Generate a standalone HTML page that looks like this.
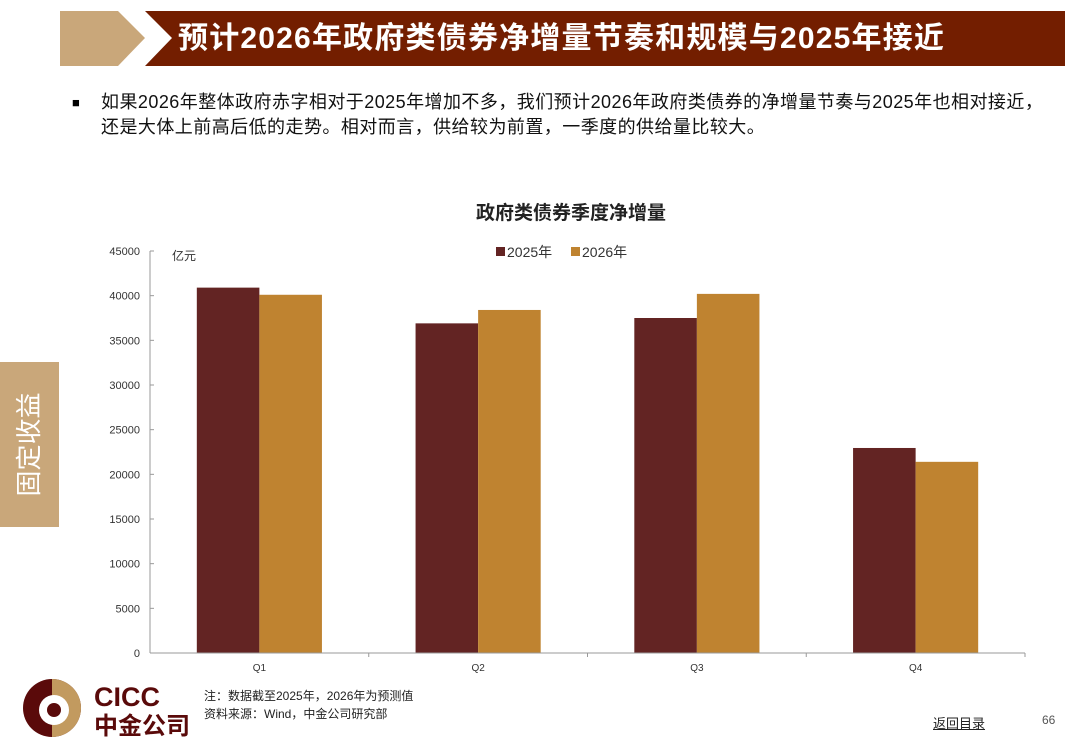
<!DOCTYPE html>
<html><head><meta charset="utf-8"><style>
body{margin:0;width:1080px;height:755px;background:#fff;position:relative;overflow:hidden;font-family:"Liberation Sans","Noto Sans CJK SC",sans-serif}
.abs{position:absolute}
</style></head><body>
<svg class="abs" style="left:0;top:0" width="1080" height="70">
<polygon points="60,11 118,11 145,38 118,66 60,66" fill="#c9a77a"/>
<polygon points="145,11 1065,11 1065,66 145,66 172,38" fill="#731e00"/>
<text x="178" y="48" fill="#fff" font-size="30" font-weight="bold" letter-spacing="1.2" font-family="Liberation Sans, Noto Sans CJK SC, sans-serif">预计2026年政府类债券净增量节奏和规模与2025年接近</text>
</svg>
<div class="abs" style="left:72px;top:95px;font-size:13px">■</div>
<div class="abs" style="left:101px;top:90px;font-size:18px;letter-spacing:0.45px;line-height:25px;color:#111;width:975px;white-space:nowrap">如果2026年整体政府赤字相对于2025年增加不多，我们预计2026年政府类债券的净增量节奏与2025年也相对接近，<br>还是大体上前高后低的走势。相对而言，供给较为前置，一季度的供给量比较大。</div>
<div class="abs" style="left:0;top:362px;width:59px;height:165px;background:#c9a77a"></div>
<div class="abs" style="left:-53px;top:429px;width:165px;height:31px;color:#fff;font-size:26px;text-align:center;transform:rotate(-90deg);line-height:31px">固定收益</div>
<svg id="chart" class="abs" style="left:0;top:0" width="1080" height="755"></svg>
<div class="abs" style="left:22px;top:678px">
<svg width="170" height="60"><circle cx="30" cy="30" r="29" fill="#5a0a0a"/><path d="M30 1 A29 29 0 0 1 30 59 Z" fill="#c29a5f"/><circle cx="32" cy="32" r="15" fill="#fff"/><circle cx="32" cy="32" r="7" fill="#5a0a0a"/>
<text x="72" y="28" font-size="27" font-weight="bold" fill="#5a0a0a" font-family="Liberation Sans, sans-serif">CICC</text>
<text x="72" y="56" font-size="24" font-weight="bold" fill="#5a0a0a" font-family="Noto Sans CJK SC, sans-serif">中金公司</text></svg></div>
<div class="abs" style="left:204px;top:687px;font-size:12px;line-height:18px;color:#222">注：数据截至2025年，2026年为预测值<br>资料来源：Wind，中金公司研究部</div>
<div class="abs" style="left:933px;top:713px;font-size:13px;text-decoration:underline;color:#222">返回目录</div>
<div class="abs" style="left:1042px;top:713px;font-size:12px;color:#555">66</div>
<script>
const categories=["Q1","Q2","Q3","Q4"];
const series2025=[40900,36900,37500,22950];
const series2026=[40100,38400,40200,21400];
const yTicks=[0,5000,10000,15000,20000,25000,30000,35000,40000,45000];
const seriesNames=["2025年","2026年"];
const colors=["#632423","#bf8330"];
const svg=document.getElementById('chart');const NS="http://www.w3.org/2000/svg";
const x0=150,x1=1025,yBase=653,yTop=251,yMax=45000;
const band=(x1-x0)/categories.length;
const y=v=>yBase-(v/yMax)*(yBase-yTop);
function mk(t,a){const e=document.createElementNS(NS,t);for(const k in a)e.setAttribute(k,a[k]);svg.appendChild(e);return e;}
let e;
e=mk('text',{x:571,y:219,'text-anchor':'middle','font-size':19,'font-weight':'bold',fill:'#222','font-family':'Liberation Sans, Noto Sans CJK SC, sans-serif'});e.textContent="政府类债券季度净增量";


e=mk('text',{x:172,y:260,'font-size':12,fill:'#333','font-family':'Noto Sans CJK SC, sans-serif'});e.textContent="亿元";


yTicks.forEach(t=>{const l=mk('line',{x1:150,x2:154,y1:y(t),y2:y(t),stroke:'#999'});


const tx=mk('text',{x:140,y:y(t)+4,'text-anchor':'end','font-size':11,fill:'#333'});tx.textContent=t;

});
const bw=band*0.286;
categories.forEach((c,i)=>{const cx=x0+band*(i+0.5);
[series2025,series2026].forEach((s,j)=>{const r=mk('rect',{x:cx-bw+j*bw,y:y(s[i]),width:bw,height:yBase-y(s[i]),fill:colors[j]});

});
const tx=mk('text',{x:cx,y:671,'text-anchor':'middle','font-size':10,fill:'#333'});tx.textContent=c;

});
for(let i=1;i<=categories.length;i++){const l=mk('line',{x1:x0+band*i,x2:x0+band*i,y1:yBase,y2:yBase+4,stroke:'#999'});

}
e=mk('line',{x1:150,x2:150,y1:yTop,y2:yBase,stroke:'#999'});


e=mk('line',{x1:150,x2:x1,y1:yBase,y2:yBase,stroke:'#999'});


seriesNames.forEach((n,j)=>{const lx=496+j*75;
const r=mk('rect',{x:lx,y:247,width:9,height:9,fill:colors[j]});


const t=mk('text',{x:lx+11,y:257,'font-size':14,fill:'#333','font-family':'Liberation Sans, Noto Sans CJK SC, sans-serif'});t.textContent=n;

});
</script>
</body></html>
